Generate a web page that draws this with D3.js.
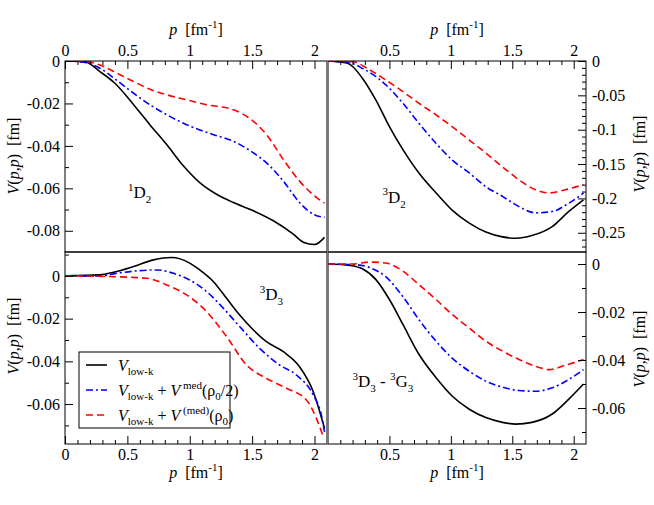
<!DOCTYPE html>
<html>
<head>
<meta charset="utf-8">
<script src="https://cdn.jsdelivr.net/npm/d3@7"></script>
<style>
  body { margin: 0; background: #fff; }
  svg text { font-family: "Liberation Serif", "Tinos", "DejaVu Serif", serif; fill: #000; white-space: pre; }
</style>
</head>
<body>
<svg id="vlowk"></svg>
<script>
// ---- data: [p (fm^-1), V(p,p) (fm)] ----
// 1D2
let d12Lowk = [[0,0],[0.16,-0.0003],[0.28,-0.005],[0.40,-0.0105],[0.55,-0.0206],[0.68,-0.030],[0.815,-0.0394],[0.95,-0.0495],[1.08,-0.0573],[1.215,-0.0628],[1.35,-0.0667],[1.51,-0.0706],[1.67,-0.0753],[1.83,-0.0816],[1.91,-0.0854],[2.0,-0.0865],[2.08,-0.0831]];
let d12Half = [[0,0],[0.15,-0.0006],[0.28,-0.0034],[0.41,-0.0089],[0.55,-0.0152],[0.68,-0.0206],[0.815,-0.0253],[0.975,-0.030],[1.19,-0.0347],[1.35,-0.0378],[1.51,-0.0433],[1.615,-0.048],[1.75,-0.0566],[1.88,-0.0667],[1.99,-0.0722],[2.08,-0.0737]];
let d12Full = [[0,0],[0.17,-0.0003],[0.28,-0.0019],[0.41,-0.0055],[0.55,-0.0097],[0.68,-0.0133],[0.815,-0.0159],[0.975,-0.0183],[1.135,-0.0206],[1.35,-0.023],[1.51,-0.0284],[1.615,-0.0347],[1.75,-0.0464],[1.88,-0.0566],[2.017,-0.0644],[2.08,-0.067]];
// 3D2
let d32Lowk = [[0,0],[0.16,-0.0034],[0.28,-0.025],[0.39,-0.057],[0.5,-0.0955],[0.61,-0.129],[0.74,-0.163],[0.88,-0.192],[1.01,-0.217],[1.15,-0.236],[1.285,-0.249],[1.42,-0.256],[1.53,-0.258],[1.66,-0.254],[1.825,-0.241],[1.96,-0.219],[2.08,-0.202]];
let d32Half = [[0,0],[0.17,-0.002],[0.28,-0.0107],[0.39,-0.0228],[0.5,-0.0397],[0.61,-0.0615],[0.74,-0.0906],[0.88,-0.12],[1.01,-0.144],[1.15,-0.163],[1.285,-0.183],[1.42,-0.197],[1.555,-0.212],[1.69,-0.221],[1.825,-0.219],[1.96,-0.207],[2.08,-0.192]];
let d32Full = [[0,0],[0.2,-0.001],[0.34,-0.013],[0.47,-0.0276],[0.61,-0.0446],[0.74,-0.0615],[0.88,-0.0785],[1.01,-0.0955],[1.15,-0.115],[1.285,-0.134],[1.42,-0.154],[1.555,-0.173],[1.69,-0.1875],[1.8,-0.192],[1.93,-0.1875],[2.08,-0.180]];
// 3D3
let d33Lowk = [[0,0],[0.28,0.0005],[0.39,0.0017],[0.55,0.0044],[0.71,0.0075],[0.855,0.0086],[1.0,0.006],[1.08,0.0028],[1.19,-0.0027],[1.295,-0.0105],[1.4,-0.0183],[1.51,-0.0253],[1.615,-0.0308],[1.75,-0.0355],[1.88,-0.0425],[1.99,-0.0542],[2.08,-0.0714]];
let d33Half = [[0,0],[0.28,0],[0.41,0.0012],[0.6,0.0025],[0.735,0.0028],[0.87,0.0012],[1.0,-0.0019],[1.135,-0.0073],[1.27,-0.0152],[1.4,-0.0237],[1.56,-0.0339],[1.72,-0.0417],[1.855,-0.0464],[1.99,-0.0558],[2.055,-0.0652],[2.08,-0.073]];
let d33Full = [[0,0],[0.35,-0.0003],[0.655,-0.0011],[0.815,-0.0042],[0.975,-0.0089],[1.135,-0.0167],[1.295,-0.0284],[1.455,-0.0417],[1.615,-0.048],[1.775,-0.0526],[1.935,-0.0581],[2.015,-0.0667],[2.065,-0.0745]];
// 3D3 - 3G3
let dgLowk = [[0,0],[0.18,-0.0006],[0.28,-0.002],[0.39,-0.0065],[0.5,-0.0148],[0.61,-0.0252],[0.74,-0.0376],[0.88,-0.0474],[1.01,-0.055],[1.15,-0.0605],[1.285,-0.064],[1.42,-0.066],[1.53,-0.0667],[1.66,-0.066],[1.825,-0.0625],[1.96,-0.0563],[2.08,-0.050]];
let dgHalf = [[0,0],[0.23,-0.0003],[0.34,-0.0015],[0.47,-0.0053],[0.61,-0.0136],[0.74,-0.0232],[0.88,-0.0322],[1.01,-0.0392],[1.15,-0.0447],[1.285,-0.0488],[1.42,-0.0513],[1.555,-0.0527],[1.69,-0.053],[1.825,-0.0516],[1.96,-0.0481],[2.08,-0.044]];
let dgFull = [[0,0],[0.2,0],[0.34,0.0008],[0.47,0.0004],[0.61,-0.003],[0.74,-0.0086],[0.88,-0.0148],[1.01,-0.021],[1.15,-0.0267],[1.285,-0.0322],[1.42,-0.0363],[1.555,-0.0398],[1.69,-0.0426],[1.8,-0.044],[1.93,-0.0422],[2.08,-0.0398]];

// tick values
let xTicksLeft = [0, 0.5, 1, 1.5, 2];
let xTicksRight = [0.5, 1, 1.5, 2];
let yTicks12 = [0, -0.02, -0.04, -0.06, -0.08];
let yTicks32 = [0, -0.05, -0.1, -0.15, -0.2, -0.25];
let yTicks33 = [0, -0.02, -0.04, -0.06];
let yTicksG = [0, -0.02, -0.04, -0.06];

// ---- layout ----
let widthSVG = 654;
let heightSVG = 505;
let serif = '"Liberation Serif", "Tinos", "DejaVu Serif", serif';
let SVG = d3.select('svg#vlowk')
            .attr('width', widthSVG)
            .attr('height', heightSVG)
            .style('font-family', serif);

let colX = [[65, 327], [328, 586]];
let rowY = [[61, 252], [252, 444]];
let majorLen = 8, minorLen = 4;
let tickFont = 16;

// minor tick helper, every step, skipping the majors
function minorTicks(lo, hi, step, majors) {
  let out = [];
  for (let i = Math.round(lo / step); i <= Math.round(hi / step); i++) {
    let v = +(i * step).toFixed(4);
    if (!majors.some(m => Math.abs(m - v) < 1e-9)) out.push(v);
  }
  return out;
}

let series = [
  { key: 'lowk', color: '#000000', dash: null },
  { key: 'half', color: '#0000ff', dash: '7,3,2,3' },
  { key: 'full', color: '#ff0000', dash: '7,4' }
];

let panels = [
  { col: 0, row: 0, yDom: [-0.09, 0], yTicks: yTicks12, yMinorStep: 0.01, xAxis: 'top', yAxis: 'left',
    xTicks: xTicksLeft, data: { lowk: d12Lowk, half: d12Half, full: d12Full },
    label: [['sup', '1'], ['n', 'D'], ['sub', '2']], labelAt: [0.505, -0.0647], yTitleY: 156 },
  { col: 1, row: 0, yDom: [-0.278, 0], yTicks: yTicks32, yMinorStep: 0.01, xAxis: 'top', yAxis: 'right',
    xTicks: xTicksRight, data: { lowk: d32Lowk, half: d32Half, full: d32Full },
    label: [['sup', '3'], ['n', 'D'], ['sub', '2']], labelAt: [0.444, -0.206], yTitleY: 154 },
  { col: 0, row: 1, yDom: [-0.0787, 0.0112], yTicks: yTicks33, yMinorStep: 0.01, xAxis: 'bottom', yAxis: 'left',
    xTicks: xTicksLeft, data: { lowk: d33Lowk, half: d33Half, full: d33Full },
    label: [['sup', '3'], ['n', 'D'], ['sub', '3']], labelAt: [1.56, -0.0113], yTitleY: 336 },
  { col: 1, row: 1, yDom: [-0.075, 0.005], yTicks: yTicksG, yMinorStep: 0.01, xAxis: 'bottom', yAxis: 'right',
    xTicks: xTicksRight, data: { lowk: dgLowk, half: dgHalf, full: dgFull },
    label: [['sup', '3'], ['n', 'D'], ['sub', '3'], ['n', ' - '], ['sup', '3'], ['n', 'G'], ['sub', '3']],
    labelAt: [0.2, -0.0513], yTitleY: 349 }
];

// write rich text (sup / sub) with tspans
function richText(sel, parts, big, small) {
  let shift = 0;
  parts.forEach(([kind, txt]) => {
    let target = kind === 'sup' ? -0.42 * big : kind === 'sub' ? 0.3 * big : 0;
    let t = sel.append('tspan')
               .attr('dy', target - shift)
               .style('font-size', (kind === 'n' || kind === 'i' ? big : small) + 'px')
               .text(txt);
    if (kind === 'i') t.style('font-style', 'italic');
    shift = target;
  });
}

panels.forEach((pn, idx) => {
  let x = d3.scaleLinear().domain([0, 2.1]).range(colX[pn.col]);
  let y = d3.scaleLinear().domain(pn.yDom).range([rowY[pn.row][1], rowY[pn.row][0]]);
  let [x0, x1] = colX[pn.col];
  let [y0, y1] = rowY[pn.row];

  let g = SVG.append('g').classed('panel', true);

  // clip for the curves
  SVG.append('clipPath').attr('id', 'clip' + idx)
     .append('rect').attr('x', x0).attr('y', y0).attr('width', x1 - x0).attr('height', y1 - y0);

  // curves
  let line = d3.line()
               .x(d => x(d[0]))
               .y(d => y(d[1]))
               .curve(d3.curveMonotoneX);
  series.forEach(s => {
    g.append('path')
     .datum(pn.data[s.key])
     .attr('clip-path', `url(#clip${idx})`)
     .attr('d', line)
     .style('fill', 'none')
     .style('stroke', s.color)
     .style('stroke-width', 1.6)
     .style('stroke-dasharray', s.dash);
  });

  // x axis (major + minor), ticks pointing inward
  let xAxisFn = pn.xAxis === 'top' ? d3.axisTop : d3.axisBottom;
  let xPos = pn.xAxis === 'top' ? y0 : y1;
  g.append('g')
    .attr('transform', `translate(0, ${xPos})`)
    .call(xAxisFn(x).tickValues(pn.xTicks).tickSize(-majorLen).tickPadding(5).tickFormat(d => String(d)));
  g.append('g')
    .attr('transform', `translate(0, ${xPos})`)
    .call(xAxisFn(x).tickValues(minorTicks(0.1, 2.0, 0.1, xTicksLeft)).tickSize(-minorLen).tickFormat(''));

  // y axis
  let yAxisFn = pn.yAxis === 'left' ? d3.axisLeft : d3.axisRight;
  let yPos = pn.yAxis === 'left' ? x0 : x1;
  g.append('g')
    .attr('transform', `translate(${yPos}, 0)`)
    .call(yAxisFn(y).tickValues(pn.yTicks).tickSize(-majorLen).tickPadding(pn.yAxis === 'left' ? 5 : 6).tickFormat(d => String(d)));
  g.append('g')
    .attr('transform', `translate(${yPos}, 0)`)
    .call(yAxisFn(y).tickValues(minorTicks(pn.yDom[0] + 1e-6, pn.yDom[1] - 1e-6, pn.yMinorStep, pn.yTicks).filter(v => v > pn.yDom[0] && v < pn.yDom[1])).tickSize(-minorLen).tickFormat(''));

  g.selectAll('.domain').remove();
  g.selectAll('g').attr('font-family', null);
  g.selectAll('.tick line').style('stroke', '#000').style('stroke-width', 1);
  g.selectAll('.tick text').style('font-size', tickFont + 'px').style('font-family', serif);

  // frame
  g.append('rect')
   .attr('x', x0).attr('y', y0)
   .attr('width', x1 - x0).attr('height', y1 - y0)
   .style('fill', 'none')
   .style('stroke', '#000')
   .style('stroke-width', 1);

  // x title
  let xt = g.append('text')
            .attr('x', (x0 + x1) / 2)
            .attr('y', pn.xAxis === 'top' ? 35 : 478)
            .style('text-anchor', 'middle');
  richText(xt, [['i', 'p'], ['n', '  [fm'], ['sup', '-1'], ['n', ']']], 16, 11);

  // y title
  let yx = pn.yAxis === 'left' ? 19 : 645;
  let yt = g.append('text')
            .attr('transform', `translate(${yx}, ${pn.yTitleY}) rotate(-90)`)
            .style('text-anchor', 'middle');
  richText(yt, [['i', 'V'], ['n', '('], ['i', 'p'], ['n', ','], ['i', 'p'], ['n', ')  [fm]']], 16, 11);

  // panel label
  let lt = g.append('text')
            .attr('x', x(pn.labelAt[0]))
            .attr('y', y(pn.labelAt[1]));
  richText(lt, pn.label, 17, 11);
});

// shared edge between the columns shows up grey in the original
SVG.append('line')
   .attr('x1', (colX[0][1] + colX[1][0]) / 2).attr('x2', (colX[0][1] + colX[1][0]) / 2)
   .attr('y1', rowY[0][0]).attr('y2', rowY[1][1])
   .style('stroke', '#777')
   .style('stroke-width', 1.6);

// ---- legend in the 3D3 panel ----
let legend = SVG.append('g').attr('transform', 'translate(79, 352)');
legend.append('rect')
      .attr('width', 151).attr('height', 76)
      .style('fill', '#fff').style('stroke', '#000').style('stroke-width', 1);

let legendRows = [
  [['i', 'V'], ['sub', 'low-k']],
  [['i', 'V'], ['sub', 'low-k'], ['n', ' + '], ['i', 'V'], ['sup', ' med'], ['n', '(ρ'], ['sub', '0'], ['n', '/2)']],
  [['i', 'V'], ['sub', 'low-k'], ['n', ' + '], ['i', 'V'], ['sup', ' (med)'], ['n', '(ρ'], ['sub', '0'], ['n', ')']]
];

series.forEach((s, i) => {
  let yy = 13 + i * 25;
  legend.append('line')
        .attr('x1', 7).attr('x2', 28)
        .attr('y1', yy).attr('y2', yy)
        .style('stroke', s.color)
        .style('stroke-width', 1.6)
        .style('stroke-dasharray', s.dash);
  let t = legend.append('text')
                .attr('x', 39)
                .attr('y', yy + 5.5);
  richText(t, legendRows[i], 16, 11);
});
</script>
</body>
</html>
